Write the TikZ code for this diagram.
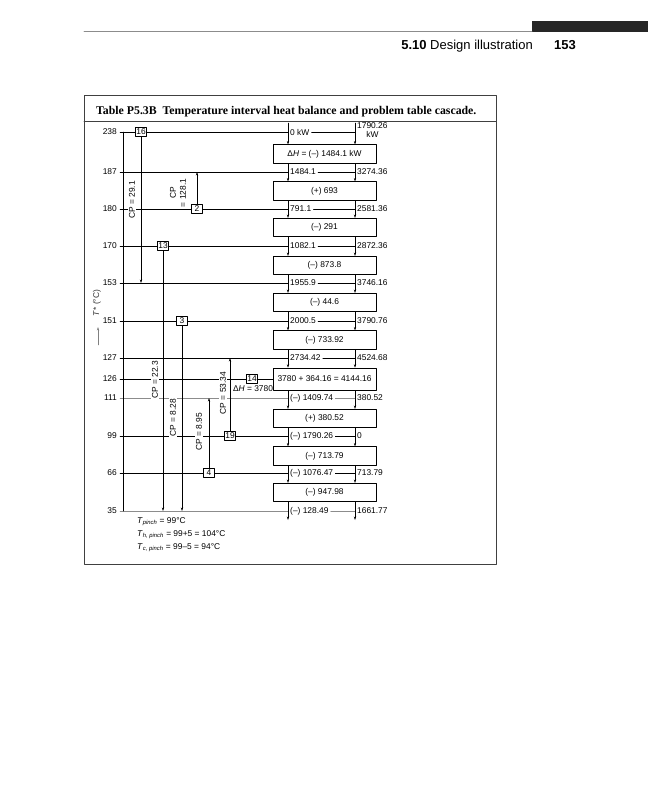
\documentclass[tikz,border=0pt]{standalone}
\usepackage{fontspec}
\setmainfont{Liberation Sans}
\newfontfamily\tabtitlefont{Liberation Serif}
\usetikzlibrary{arrows.meta}

\tikzset{
  lvl/.style={line width=0.5pt},
  casbox/.style={draw,line width=0.6pt,minimum width=103pt,minimum height=18.5pt,inner sep=0pt},
  strbox/.style={draw,line width=0.5pt,fill=white,inner sep=1pt,minimum width=11pt,minimum height=9pt},
  cplab/.style={rotate=90,fill=white,inner sep=1pt},
  arr/.style={-{Stealth[length=3.5pt,width=2.2pt]}},
}

\begin{document}
\begin{tikzpicture}[x=1pt,y=-1pt,line cap=round,line join=round,font=\fontsize{8.4}{9.8}\selectfont]
\useasboundingbox (0,0) rectangle (648,800);

% page head
\fill[black!85] (532,21) rectangle (648,32);
\draw[black!45,line width=0.8pt] (84,31) -- (532,31);
\node[anchor=base east,inner sep=0pt,font=\fontsize{13}{15}\selectfont] (headtext) at (533,49) {\textbf{5.10} Design illustration};
\node[anchor=base east,inner sep=0pt,font=\bfseries\fontsize{13}{15}\selectfont] (headpage) at (576,49) {153};

% table frame
\draw[black!75,line width=0.8pt] (84,95) rectangle (496,564);
\draw[black!75,line width=0.8pt] (84,121) -- (496,121);
\node[anchor=base west,inner sep=0pt,font=\tabtitlefont\bfseries\fontsize{11.8}{14}\selectfont] (title) at (96,114)
  {Table P5.3B\enspace Temperature interval heat balance and problem table cascade.};

\coordinate (colL) at (288,123);
\coordinate (colR) at (355,123);

% cascade boxes
\node[casbox] (B1) at (324.5,154) {Δ\textit{H} = (–) 1484.1 kW};
\node[casbox] (B2) at (324.5,191) {(+) 693};
\node[casbox] (B3) at (324.5,227.5) {(–) 291};
\node[casbox] (B4) at (324.5,265.5) {(–) 873.8};
\node[casbox] (B5) at (324.5,302.5) {(–) 44.6};
\node[casbox] (B6) at (324.5,340) {(–) 733.92};
\node[casbox,minimum height=22pt] (B7) at (324.5,379) {3780 + 364.16 = 4144.16};
\node[casbox] (B8) at (324.5,418.5) {(+) 380.52};
\node[casbox] (B9) at (324.5,456) {(–) 713.79};
\node[casbox] (B10) at (324.5,492.5) {(–) 947.98};

% temperature levels
\foreach \t/\y/\l/\r/\c in {187/172/1484.1/3274.36/black,180/209/791.1/2581.36/black,
    170/246/1082.1/2872.36/black,153/283/1955.9/3746.16/black,151/321/2000.5/3790.76/black,
    127/358/2734.42/4524.68/black,111/398/{(–) 1409.74}/380.52/black!45,
    99/436/{(–) 1790.26}/0/black,66/473/{(–) 1076.47}/713.79/black,35/511/{(–) 128.49}/1661.77/black!45}{
  \node[anchor=east,inner sep=3pt] (T\t) at (120,\y) {\t};
  \node[anchor=west,inner sep=2pt] (L\t) at (288,\y) {\l};
  \node[anchor=west,inner sep=2pt] (R\t) at (355,\y) {\r};
  \draw[lvl,draw=\c] (T\t.east) -- (L\t.west);
  \draw[lvl,draw=\c] (L\t.east) -- (L\t.east -| colR);
}
\node[anchor=east,inner sep=3pt] (T238) at (120,132) {238};
\node[anchor=west,inner sep=2pt] (L238) at (288,132) {0 kW};
\node[anchor=west,inner sep=2pt,align=center] (R238) at (355,130) {1790.26\\kW};
\draw[lvl] (T238.east) -- (L238.west);
\draw[lvl] (L238.east) -- (L238.east -| colR);
\node[anchor=east,inner sep=3pt] (T126) at (120,379) {126};
\draw[lvl] (T126.east) -- (B7.west);

% temperature axis
\draw[lvl] (T238.east -| 123,0) -- (T35.east -| 123,0);
\node[rotate=90,text=black!80] (Tlab) at (97,303) {\textit{T}* (°C)};
\coordinate (Tarr1) at (98,345);
\coordinate (Tarr2) at (98,327);
\draw[arr,black!50] (Tarr1) -- (Tarr2);

% cascade arrows
\draw[arr] (colL) -- (B1.north -| colL);
\draw[arr] (colR) -- (B1.north -| colR);
\foreach \a/\b in {B1/B2,B2/B3,B3/B4,B4/B5,B5/B6,B6/B7,B7/B8,B8/B9,B9/B10}{
  \draw[arr] (\a.south -| colL) -- (\b.north -| colL);
  \draw[arr] (\a.south -| colR) -- (\b.north -| colR);
}
\coordinate (endL) at (288,520);
\coordinate (endR) at (355,520);
\draw[arr] (B10.south -| colL) -- (endL);
\draw[arr] (B10.south -| colR) -- (endR);

% streams
\node[strbox] (s16) at (141,132) {16};
\node[strbox] (s2) at (197,209) {2};
\node[strbox] (s13) at (163,246) {13};
\node[strbox] (s3) at (182,321) {3};
\node[strbox] (s14) at (252,379) {14};
\node[strbox] (s19) at (230,436) {19};
\node[strbox] (s4) at (209,473) {4};
\draw[arr] (s16) -- (s16 |- T153);
\draw[arr] (s2) -- (s2 |- T187);
\draw[arr] (s13) -- (s13 |- T35);
\draw[arr] (s3) -- (s3 |- T35);
\draw[arr] (s19) -- (s19 |- T127);
\draw[arr] (s4) -- (s4 |- T111);
\node[cplab] (cp16) at (132,200) {CP = 29.1};
\node[cplab,align=center] (cp2) at (178,193) {CP\\= 128.1};
\node[cplab] (cp13) at (155,380) {CP = 22.3};
\node[cplab] (cp3) at (173,418) {CP = 8.28};
\node[cplab] (cp4) at (199,432) {CP = 8.95};
\node[cplab] (cp19) at (223,393) {CP = 53.34};
\node[inner sep=1pt] (dh14) at (253,389) {Δ\textit{H} = 3780};

% pinch
\node[anchor=base west,inner sep=0pt] (tp) at (137,523) {\textit{T}\textsubscript{\textit{pinch}} = 99°C};
\node[anchor=base west,inner sep=0pt] (tph) at (137,536) {\textit{T}\textsubscript{\textit{h, pinch}} = 99+5 = 104°C};
\node[anchor=base west,inner sep=0pt] (tpc) at (137,549) {\textit{T}\textsubscript{\textit{c, pinch}} = 99–5 = 94°C};
\end{tikzpicture}
\end{document}
